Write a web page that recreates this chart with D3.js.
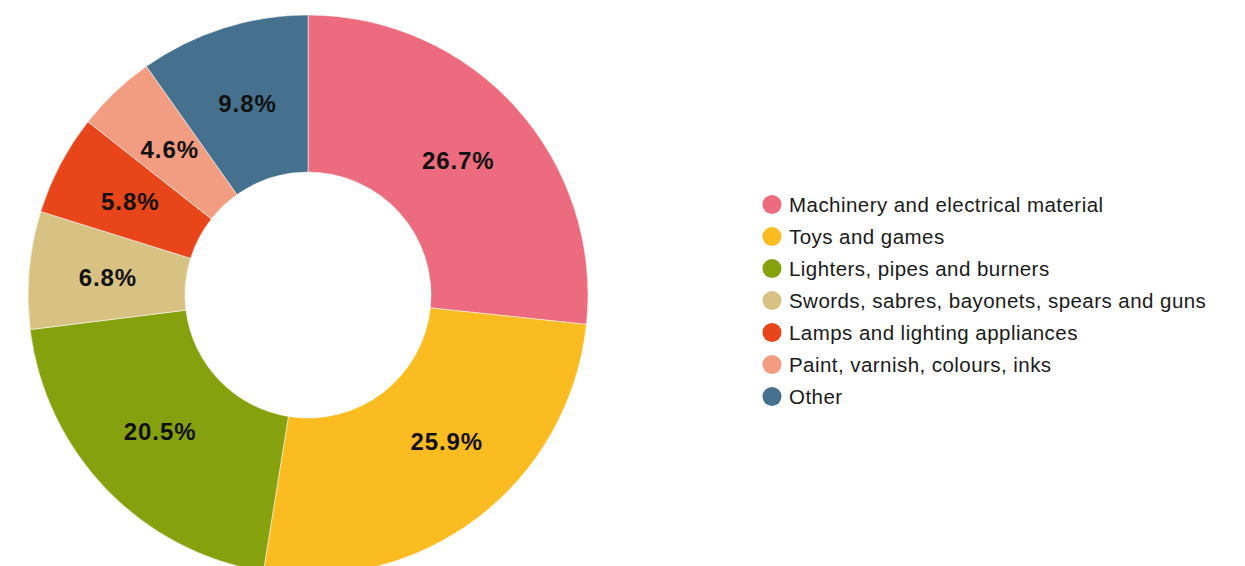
<!DOCTYPE html>
<html>
<head>
<meta charset="utf-8">
<script src="https://cdn.jsdelivr.net/npm/d3@7"></script>
<style>
  html, body { margin: 0; padding: 0; background: #fff; }
  svg { display: block; font-family: "Liberation Sans", Arial, Helvetica, sans-serif; }
</style>
</head>
<body>
<svg id="chart" width="1245" height="566"></svg>
<script>
const categories = [
  'Machinery and electrical material',
  'Toys and games',
  'Lighters, pipes and burners',
  'Swords, sabres, bayonets, spears and guns',
  'Lamps and lighting appliances',
  'Paint, varnish, colours, inks',
  'Other'
];
const shares = [26.7, 25.9, 20.5, 6.8, 5.8, 4.6, 9.8];
const colors = ['#EC6B7E', '#FBBC22', '#86A10E', '#D8C283', '#E8451A', '#F29C82', '#45718F'];

const W = 1245, H = 566;
const svg = d3.select('#chart');
const cx = 308, cy = 295;
const outerR = 280, innerR = 123;

const data = categories.map((c, i) => ({ label: c, value: shares[i], color: colors[i] }));

const pie = d3.pie().value((d) => d.value).sort(null);
const arc = d3.arc().innerRadius(innerR).outerRadius(outerR);

const g = svg.append('g').attr('transform', `translate(${cx},${cy})`);

const arcs = pie(data);

g.selectAll('path')
  .data(arcs)
  .enter()
  .append('path')
  .attr('d', arc)
  .attr('fill', (d) => d.data.color)
  .attr('stroke', '#fff')
  .attr('stroke-width', 0.5);

// label angle = middle of the on-screen part of the inner and outer edges
const maxY = H - cy;
function visibleMid(d, r) {
  let s = 0, n = 0;
  for (let i = 0; i <= 200; i++) {
    const a = d.startAngle + (d.endAngle - d.startAngle) * i / 200;
    if (-Math.cos(a) * r <= maxY) { s += a; n++; }
  }
  return s / n;
}
function labelPos(d) {
  const a = (visibleMid(d, innerR) + visibleMid(d, outerR)) / 2;
  const r = (innerR + outerR) / 2;
  return [Math.sin(a) * r, -Math.cos(a) * r];
}

g.selectAll('text.val')
  .data(arcs)
  .enter()
  .append('text')
  .attr('class', 'val')
  .attr('transform', (d) => `translate(${labelPos(d)})`)
  .attr('text-anchor', 'middle')
  .attr('dx', 0.5)
  .attr('dy', '0.36em')
  .attr('font-size', 24)
  .attr('font-weight', 'bold')
  .attr('letter-spacing', 0.9)
  .attr('fill', '#111')
  .text((d) => d.data.value.toFixed(1) + '%');

// legend
const legend = svg.append('g').attr('transform', 'translate(772,204.5)');
const rows = legend.selectAll('g')
  .data(data)
  .enter()
  .append('g')
  .attr('transform', (d, i) => `translate(0,${i * 32})`);

rows.append('circle')
  .attr('r', 9.5)
  .attr('fill', (d) => d.color);

rows.append('text')
  .attr('x', 17)
  .attr('dy', '0.36em')
  .attr('font-size', 20.5)
  .attr('letter-spacing', 0.45)
  .attr('fill', '#1a1a1a')
  .text((d) => d.label);
</script>
</body>
</html>
